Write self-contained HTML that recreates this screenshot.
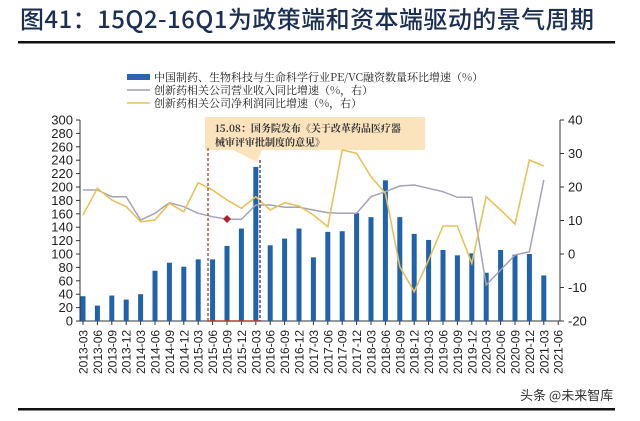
<!DOCTYPE html>
<html><head><meta charset="utf-8"><style>
body{margin:0;width:640px;height:416px;background:#fff;overflow:hidden;font-family:"Liberation Sans","Noto Sans CJK SC",sans-serif}
</style></head><body>
<svg id="s" width="640" height="416" xmlns="http://www.w3.org/2000/svg" font-family="Liberation Sans, Noto Sans CJK SC, sans-serif">
<text x="20" y="28" font-size="24" fill="#1b2f52" font-family="Noto Sans CJK SC, sans-serif" font-weight="500" textLength="574" lengthAdjust="spacing">图41：15Q2-16Q1为政策端和资本端驱动的景气周期</text>
<rect x="18" y="41" width="597" height="2.5" fill="#111"/>
<rect x="127" y="74" width="23" height="6" fill="#2a64ad"/>
<line x1="127" y1="90" x2="150" y2="90" stroke="#a0a0b0" stroke-width="1.5"/>
<line x1="127" y1="103" x2="150" y2="103" stroke="#e6c25c" stroke-width="1.5"/>
<g font-size="11" fill="#222" font-family="Noto Serif CJK SC, Noto Sans CJK SC, serif">
<text x="154" y="81">中国制药、生物科技与生命科学行业PE/VC融资数量环比增速（%）</text>
<text x="154" y="94">创新药相关公司营业收入同比增速（%，右）</text>
<text x="154" y="107">创新药相关公司净利润同比增速（%，右）</text>
</g>
<polygon points="205,117 425,117 425,150 262,150 257,162 233,150 205,150" fill="#fbe3bd"/>
<g font-size="10" font-weight="bold" fill="#333" font-family="Noto Serif CJK SC, serif">
<text x="215" y="132">15.08：国务院发布《关于改革药品医疗器</text>
<text x="215" y="146">械审评审批制度的意见》</text>
</g>
<g id="g"></g>
<text x="520" y="400" font-size="13" fill="#333" font-family="Noto Sans CJK SC, sans-serif">头条 @未来智库</text>
<rect x="18" y="408" width="597" height="2.5" fill="#111"/>
</svg>
<script>
var g=document.getElementById('g'),h='';
var bars=[37,23,38,32,40,75,87,81,92,92,112,138,230,113,123,138,95,133,134,161,155,210,155,130,121,106,98,101,72,106,99,100,68];
var gray=[190,190,196.7,196.7,220,213.3,202.7,206.7,213.3,216.7,219.3,219.3,205,205,207.3,207.3,210,212.7,213.3,213.3,196.7,191.7,186,185,188.3,191.7,197.3,197.3,285,270,255,251.7,180];
var yel=[215,188.3,200,206.7,221.7,220,203.3,211.7,182.7,190,200,208.3,196.7,210,202.7,206,215,226.7,150,153.3,176.7,193.3,266.7,291.7,260,226,226,263.3,196.7,210,224,160,166];
function X(i){return 83+i*14.4}
var y0=321,k=201/300;
for(var v=0;v<=300;v+=20){var y=y0-v*k;h+='<line x1="76" y1="'+y+'" x2="80" y2="'+y+'" stroke="#333"/><text x="73" y="'+(y+4.5)+'" font-size="13" text-anchor="end" fill="#222">'+v+'</text>';}
for(var v=-20;v<=40;v+=10){var y=y0-(v+20)*201/60;h+='<line x1="560" y1="'+y+'" x2="564" y2="'+y+'" stroke="#333"/><text x="568" y="'+(y+4.5)+'" font-size="13" fill="#222">'+v+'</text>';}
h+='<line x1="80" y1="120" x2="80" y2="321" stroke="#333"/><line x1="560" y1="120" x2="560" y2="321" stroke="#333"/><line x1="80" y1="321" x2="560" y2="321" stroke="#333"/>';
bars.forEach(function(b,i){h+='<rect x="'+(X(i)-2.5)+'" y="'+(y0-b*k)+'" width="5" height="'+(b*k)+'" fill="#1f63ad"/>';});
var lab=[];for(var yr=2013;yr<=2021;yr++)['03','06','09','12'].forEach(function(m){lab.push(yr+'-'+m)});lab=lab.slice(0,34);
lab.forEach(function(l,i){var x=X(i);h+='<line x1="'+x+'" y1="321" x2="'+x+'" y2="325" stroke="#333"/><text transform="translate('+(x+4.5)+',374) rotate(-90)" font-size="12" fill="#222">'+l+'</text>';});
h+='<polyline points="'+gray.map(function(y,i){return X(i)+','+y}).join(' ')+'" fill="none" stroke="#a3a3b5" stroke-width="1.5"/>';
h+='<polyline points="'+yel.map(function(y,i){return X(i)+','+y}).join(' ')+'" fill="none" stroke="#e6c25c" stroke-width="1.6"/>';
h+='<line x1="208" y1="148" x2="208" y2="321" stroke="#c0392b" stroke-dasharray="3,2" stroke-width="1.3"/><line x1="260" y1="160" x2="260" y2="321" stroke="#4a3050" stroke-dasharray="3,2" stroke-width="1.3"/><line x1="208" y1="321" x2="260" y2="321" stroke="#c0392b" stroke-width="1.5"/>';
h+='<polygon points="227,215 231,219 227,223 223,219" fill="#b0202a"/>';
g.innerHTML=h;
</script>
</body></html>
